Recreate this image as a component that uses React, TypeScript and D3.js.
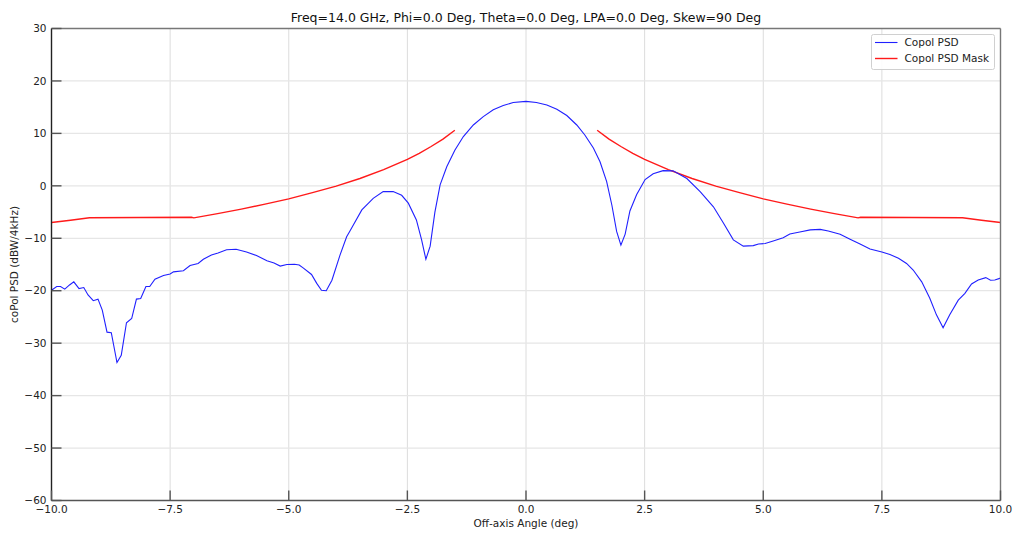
import React from "react";
import * as d3 from "d3";

const title = "Freq=14.0 GHz, Phi=0.0 Deg, Theta=0.0 Deg, LPA=0.0 Deg, Skew=90 Deg";
const xLabel = "Off-axis Angle (deg)";
const yLabel = "coPol PSD (dBW/4kHz)";
const xTicks = [-10, -7.5, -5, -2.5, 0, 2.5, 5, 7.5, 10];
const yTicks = [-60, -50, -40, -30, -20, -10, 0, 10, 20, 30];
const seriesNames = ["Copol PSD", "Copol PSD Mask"];

const copolAngles = [
  -10.0, -9.89, -9.81, -9.72, -9.62, -9.53, -9.42, -9.32, -9.23, -9.12, -9.02, -8.93, -8.83, -8.74, -8.62,
  -8.53, -8.42, -8.31, -8.21, -8.12, -8.01, -7.93, -7.82, -7.64, -7.5, -7.43, -7.22, -7.08, -6.91, -6.8,
  -6.63, -6.49, -6.31, -6.11, -5.89, -5.68, -5.46, -5.31, -5.18, -5.04, -4.88, -4.78, -4.69, -4.52, -4.41,
  -4.31, -4.21, -4.09, -3.92, -3.78, -3.71, -3.46, -3.22, -3.01, -2.8, -2.62, -2.48, -2.31, -2.2, -2.11,
  -2.02, -1.92, -1.81, -1.67, -1.5, -1.32, -1.11, -0.9, -0.69, -0.48, -0.27, 0.0, 0.22, 0.44, 0.65,
  0.86, 1.07, 1.24, 1.42, 1.56, 1.7, 1.81, 1.91, 2.0, 2.09, 2.19, 2.33, 2.51, 2.68, 2.89,
  3.1, 3.39, 3.67, 3.95, 4.16, 4.37, 4.58, 4.79, 4.9, 5.04, 5.21, 5.42, 5.56, 5.77, 5.99,
  6.2, 6.37, 6.62, 6.83, 7.04, 7.25, 7.5, 7.67, 7.85, 8.02, 8.16, 8.34, 8.51, 8.65, 8.79,
  8.93, 9.11, 9.25, 9.39, 9.53, 9.69, 9.79, 9.88, 10.0,
];
const copolValues = [
  -19.9, -19.2, -19.2, -19.7, -18.9, -18.3, -19.6, -19.4, -20.8, -21.9, -21.6, -23.7, -27.9, -28.0, -33.7,
  -32.3, -26.1, -25.3, -21.6, -21.5, -19.2, -19.2, -17.8, -17.1, -16.8, -16.4, -16.2, -15.2, -14.8, -14.0,
  -13.2, -12.8, -12.2, -12.1, -12.6, -13.3, -14.3, -14.7, -15.3, -15.0, -14.95, -15.1, -15.7, -16.9, -18.6,
  -19.9, -20.0, -18.0, -13.2, -9.7, -8.6, -4.6, -2.4, -1.1, -1.1, -1.8, -3.3, -6.5, -10.3, -14.0,
  -11.5, -5.0, 0.2, 3.65, 6.8, 9.4, 11.6, 13.2, 14.5, 15.3, 15.9, 16.1, 15.9, 15.4, 14.6,
  13.4, 11.6, 9.7, 7.2, 4.6, 0.8, -3.7, -8.7, -11.3, -9.2, -4.8, -1.7, 1.2, 2.3, 2.9,
  2.85, 1.4, -1.1, -4.0, -7.1, -10.3, -11.5, -11.4, -11.1, -11.0, -10.5, -9.9, -9.2, -8.8, -8.4,
  -8.3, -8.6, -9.25, -10.2, -11.1, -12.05, -12.6, -13.1, -13.8, -14.8, -16.05, -18.3, -21.45, -24.6, -27.05,
  -24.6, -21.8, -20.5, -18.7, -17.95, -17.5, -18.0, -17.95, -17.6,
];

const maskLeftAngles = [-10.0, -9.6, -9.2, -7.05, -7.0, -6.5, -6.0, -5.5, -5.0, -4.5, -4.0, -3.5, -3.0, -2.5, -2.25, -2.0, -1.75, -1.5];
const maskLeftValues = [-7.0, -6.55, -6.1, -6.0, -6.1, -5.3, -4.45, -3.5, -2.5, -1.3, -0.05, 1.4, 3.1, 5.05, 6.2, 7.5, 8.9, 10.6];
const maskRightAngles = [1.5, 1.75, 2.0, 2.25, 2.5, 3.0, 3.5, 4.0, 4.5, 5.0, 5.5, 6.0, 6.5, 7.0, 7.05, 9.2, 9.6, 10.0];
const maskRightValues = [10.6, 8.9, 7.5, 6.2, 5.05, 3.1, 1.4, -0.05, -1.3, -2.5, -3.5, -4.45, -5.3, -6.1, -6.0, -6.1, -6.55, -7.0];

const W = 1016;
const H = 536;
const FONT = "DejaVu Sans, sans-serif";

function fmt(v: number, digits: number) {
  const s = Math.abs(v).toFixed(digits);
  return v < 0 ? "\u2212" + s : s;
}

export default function App() {
  const x = d3.scaleLinear().domain([-10, 10]).range([51.5, 1000.5]);
  const y = d3.scaleLinear().domain([-60, 30]).range([500.5, 28.5]);
  const line = d3
    .line<[number, number]>()
    .x((d) => x(d[0]))
    .y((d) => y(d[1]))
    .curveMonotoneX;
  const mk = d3
    .line<[number, number]>()
    .x((d) => x(d[0]))
    .y((d) => y(d[1]));
  const copol = copolAngles.map((a, i) => [a, copolValues[i]] as [number, number]);
  const mL = maskLeftAngles.map((a, i) => [a, maskLeftValues[i]] as [number, number]);
  const mR = maskRightAngles.map((a, i) => [a, maskRightValues[i]] as [number, number]);
  const [x0, x1] = x.range();
  const [y0, y1] = y.range();

  return (
    <svg width={W} height={H} style={{ position: "absolute", left: 0, top: 0, background: "#fff" }} fontFamily={FONT}>
      <rect x={0} y={0} width={W} height={H} fill="#fff" />
      {/* grid */}
      {xTicks.map((t) => (
        <line key={"gx" + t} x1={x(t)} x2={x(t)} y1={y1} y2={y0} stroke="#dcdcdc" strokeWidth={1} />
      ))}
      {yTicks.map((t) => (
        <line key={"gy" + t} x1={x0} x2={x1} y1={y(t)} y2={y(t)} stroke="#e6e6e6" strokeWidth={1.2} />
      ))}
      {/* data */}
      <path d={mk(mL) || ""} fill="none" stroke="#ff1a1a" strokeWidth={1.4} />
      <path d={mk(mR) || ""} fill="none" stroke="#ff1a1a" strokeWidth={1.4} />
      <path d={mk(copol) || ""} fill="none" stroke="#2020ff" strokeWidth={1.1} />
      {/* spines */}
      <line x1={x0} x2={x1} y1={y1} y2={y1} stroke="#777" strokeWidth={1.4} />
      <line x1={x1} x2={x1} y1={y1} y2={y0} stroke="#777" strokeWidth={1.4} />
      <line x1={x0} x2={x1} y1={y0} y2={y0} stroke="#555" strokeWidth={1.4} />
      <line x1={x0} x2={x0} y1={y1} y2={y0} stroke="#222" strokeWidth={1.4} />
      {/* ticks */}
      {yTicks.map((t) => (
        <g key={"ty" + t}>
          <line x1={x0} x2={x0 + 10} y1={y(t)} y2={y(t)} stroke="#555" strokeWidth={1.4} />
          <text x={x0 - 5} y={y(t)} dy="0.35em" textAnchor="end" fontSize={10.5} fill="#222">
            {fmt(t, 0)}
          </text>
        </g>
      ))}
      {xTicks.map((t) => (
        <g key={"tx" + t}>
          <line x1={x(t)} x2={x(t)} y1={y0} y2={y0 - 10} stroke="#555" strokeWidth={1.4} />
          <text x={x(t)} y={y0 + 12.5} textAnchor="middle" fontSize={10.5} fill="#222">
            {fmt(t, 1)}
          </text>
        </g>
      ))}
      {/* labels */}
      <text x={(x0 + x1) / 2} y={22} textAnchor="middle" fontSize={12.5} fill="#111">
        {title}
      </text>
      <text x={(x0 + x1) / 2} y={527} textAnchor="middle" fontSize={10.5} fill="#222">
        {xLabel}
      </text>
      <text
        transform={`translate(18,${(y0 + y1) / 2}) rotate(-90)`}
        textAnchor="middle"
        fontSize={10.5}
        fill="#222"
      >
        {yLabel}
      </text>
      {/* legend */}
      <g>
        <rect x={871.5} y={34.5} width={123} height={35} rx={2} fill="#fff" fillOpacity={0.9} stroke="#d0d0d0" strokeWidth={1} />
        <line x1={875} x2={897.5} y1={42.5} y2={42.5} stroke="#2020ff" strokeWidth={1.1} />
        <line x1={875} x2={897.5} y1={58.5} y2={58.5} stroke="#ff1a1a" strokeWidth={1.4} />
        <text x={904.5} y={42.5} dy="0.35em" fontSize={10.5} fill="#222">
          {seriesNames[0]}
        </text>
        <text x={904.5} y={58.5} dy="0.35em" fontSize={10.5} fill="#222">
          {seriesNames[1]}
        </text>
      </g>
    </svg>
  );
}
